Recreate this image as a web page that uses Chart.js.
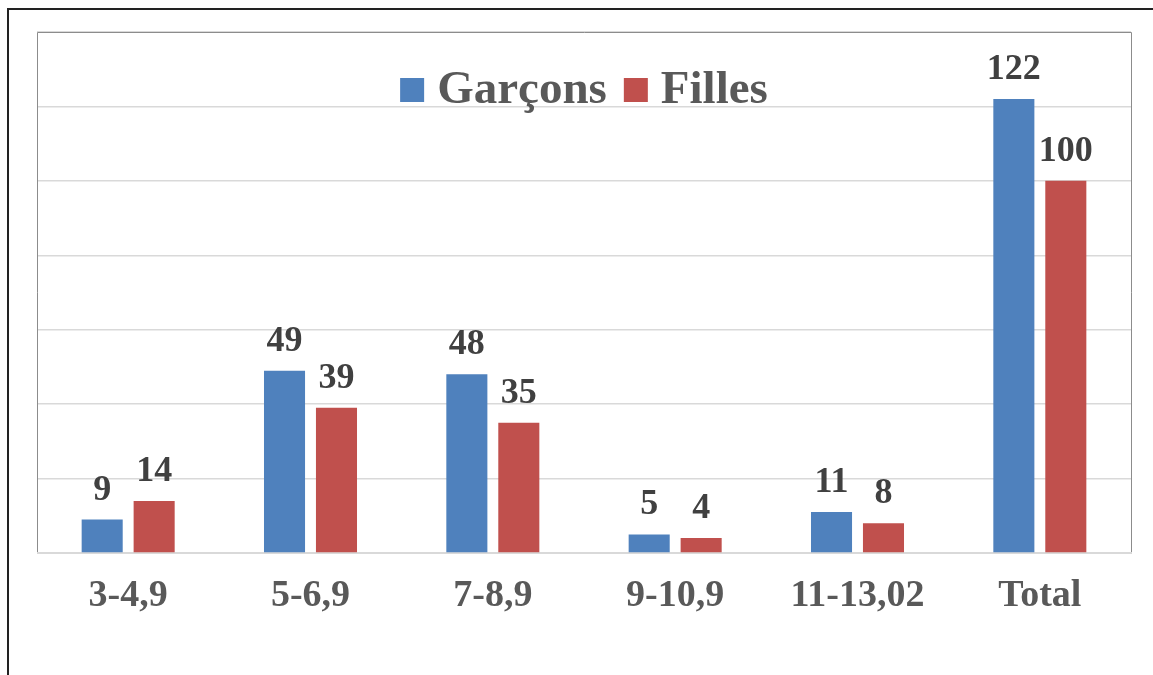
<!DOCTYPE html>
<html>
<head>
<meta charset="utf-8">
<script src="https://cdn.jsdelivr.net/npm/chart.js@4.4.1/dist/chart.umd.min.js"></script>
<style>
  html, body { margin: 0; padding: 0; background: #fff; overflow: hidden; }
  #frame {
    position: absolute; left: 7px; top: 8px; width: 1160px; height: 680px;
    border-left: 2px solid #222; border-top: 2px solid #222;
  }
  #wrap { position: absolute; left: 0; top: 0; width: 1153px; height: 675px; }
</style>
</head>
<body>
<div id="frame"></div>
<div id="wrap"><canvas id="myChart"></canvas></div>
<script>
const categories = ["3-4,9", "5-6,9", "7-8,9", "9-10,9", "11-13,02", "Total"];
const garcons = [9, 49, 48, 5, 11, 122];
const filles = [14, 39, 35, 4, 8, 100];
const seriesNames = ["Garçons", "Filles"];
const seriesColors = ["#4f81bd", "#c0504d"];

const serif = "'Liberation Serif', 'Times New Roman', serif";

// plot frame, value labels and legend drawn on the canvas
const extras = {
  id: "extras",
  beforeDatasetsDraw(chart) {
    const { ctx, chartArea: a } = chart;
    ctx.save();
    ctx.strokeStyle = "#8c8c8c";
    ctx.lineWidth = 1;
    ctx.beginPath();
    ctx.moveTo(a.left + 0.5, a.bottom);
    ctx.lineTo(a.left + 0.5, a.top + 0.5);
    ctx.lineTo(a.right + 0.5, a.top + 0.5);
    ctx.lineTo(a.right + 0.5, a.bottom);
    ctx.stroke();
    ctx.strokeStyle = "#d9d9d9";
    ctx.lineWidth = 2;
    ctx.beginPath();
    ctx.moveTo(a.left, a.bottom);
    ctx.lineTo(a.right + 1, a.bottom);
    ctx.stroke();
    ctx.restore();
  },
  afterDatasetsDraw(chart) {
    const { ctx, chartArea: a } = chart;
    ctx.save();
    ctx.font = "bold 36px " + serif;
    ctx.fillStyle = "#404040";
    ctx.textAlign = "center";
    ctx.textBaseline = "alphabetic";
    chart.data.datasets.forEach((ds, i) => {
      chart.getDatasetMeta(i).data.forEach((bar, j) => {
        ctx.fillText(ds.data[j], bar.x, bar.y - 20);
      });
    });

    // legend
    ctx.font = "bold 47px " + serif;
    const box = 24, gapText = 13, gapItem = 17;
    const widths = chart.data.datasets.map((ds) => ctx.measureText(ds.label).width);
    let total = 0;
    widths.forEach((w, i) => { total += box + gapText + w + (i ? gapItem : 0); });
    let x = (a.left + a.right) / 2 - total / 2;
    const base = 103;
    ctx.textAlign = "left";
    chart.data.datasets.forEach((ds, i) => {
      ctx.fillStyle = ds.backgroundColor;
      ctx.fillRect(x, base - 25, box, box);
      x += box + gapText;
      ctx.fillStyle = "#595959";
      ctx.fillText(ds.label, x, base);
      x += widths[i] + gapItem;
    });
    ctx.restore();
  }
};

new Chart(document.getElementById("myChart"), {
  type: "bar",
  data: {
    labels: categories,
    datasets: [
      { label: seriesNames[0], data: garcons, backgroundColor: seriesColors[0] },
      { label: seriesNames[1], data: filles, backgroundColor: seriesColors[1] }
    ]
  },
  options: {
    responsive: true,
    maintainAspectRatio: false,
    animation: false,
    categoryPercentage: 0.57,
    barPercentage: 0.79,
    layout: { padding: { left: 37, right: 22, top: 32, bottom: 0 } },
    plugins: { legend: { display: false }, tooltip: { enabled: false } },
    scales: {
      x: {
        grid: { display: false, drawTicks: false },
        border: { display: false },
        ticks: {
          padding: 20,
          color: "#595959",
          font: { family: serif, size: 38, weight: "bold" }
        },
        afterFit: (s) => { s.height = 122; }
      },
      y: {
        min: 0,
        max: 140,
        ticks: { display: false, stepSize: 20 },
        grid: { color: "#d9d9d9", lineWidth: 1.5, drawTicks: false },
        border: { display: false },
        afterFit: (s) => { s.width = 0; }
      }
    }
  },
  plugins: [extras]
});
</script>
</body>
</html>
